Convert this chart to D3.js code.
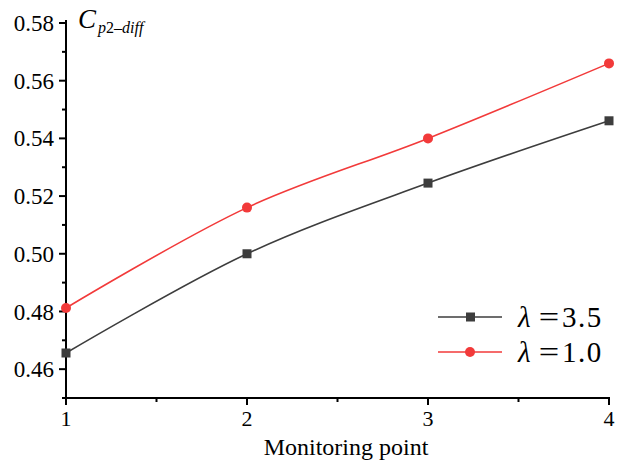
<!DOCTYPE html>
<html><head><meta charset="utf-8">
<script src="https://cdn.jsdelivr.net/npm/d3@7"></script>
<style>body{margin:0;background:#fff}svg{display:block}text{font-family:"Liberation Serif",serif}</style>
</head><body><svg id="c" width="624" height="461"></svg>
<script>
const points = [1, 2, 3, 4];
const seriesNames = ["λ = 3.5", "λ = 1.0"];
const lambda35 = [0.4656, 0.5000, 0.5245, 0.5461];
const lambda10 = [0.4812, 0.5160, 0.5400, 0.5660];
const yTicks = [0.46, 0.48, 0.50, 0.52, 0.54, 0.56, 0.58];
const xTicks = [1, 2, 3, 4];
const colors = ["#3d3d3d", "#f23a3a"];

const svg = d3.select("#c");
const x = d3.scaleLinear().domain([1, 4]).range([66, 609]);
const y = d3.scaleLinear().domain([0.45, 0.58]).range([398, 23]);

const yMinor = d3.range(0.45, 0.5801, 0.01).map(v => +v.toFixed(3)).filter(v => !yTicks.some(t => Math.abs(t - v) < 1e-6));
const xMinor = [1.5, 2.5, 3.5];

const gy = svg.append("g").attr("transform", "translate(66,0)");
gy.append("line").attr("x1", 0).attr("x2", 0).attr("y1", y(0.58) - 3).attr("y2", 399).attr("stroke", "#000").attr("stroke-width", 2);
gy.selectAll(".maj").data(yTicks).join("line").attr("class","maj").attr("x1", -7).attr("x2", 0).attr("y1", d => y(d)).attr("y2", d => y(d)).attr("stroke", "#000").attr("stroke-width", 2);
gy.selectAll(".min").data(yMinor).join("line").attr("class","min").attr("x1", -4).attr("x2", 0).attr("y1", d => y(d)).attr("y2", d => y(d)).attr("stroke", "#000").attr("stroke-width", 2);
gy.selectAll("text").data(yTicks).join("text").attr("x", -12).attr("y", d => y(d)).attr("dy", "0.35em")
  .attr("text-anchor", "end").attr("font-size", 23).text(d => d.toFixed(2));

const gx = svg.append("g").attr("transform", "translate(0,398)");
gx.append("line").attr("x1", 65).attr("x2", 610).attr("y1", 0).attr("y2", 0).attr("stroke", "#000").attr("stroke-width", 2);
gx.selectAll(".maj").data(xTicks).join("line").attr("class","maj").attr("x1", d => x(d)).attr("x2", d => x(d)).attr("y1", 0).attr("y2", 7).attr("stroke", "#000").attr("stroke-width", 2);
gx.selectAll(".min").data(xMinor).join("line").attr("class","min").attr("x1", d => x(d)).attr("x2", d => x(d)).attr("y1", 0).attr("y2", 4).attr("stroke", "#000").attr("stroke-width", 2);
gx.selectAll("text").data(xTicks).join("text").attr("x", d => x(d)).attr("y", 28)
  .attr("text-anchor", "middle").attr("font-size", 22).text(d => d);

svg.append("text").attr("x", 346).attr("y", 455).attr("text-anchor", "middle")
  .attr("font-size", 24).text("Monitoring point");

const yt = svg.append("text").attr("x", 78).attr("y", 28);
yt.append("tspan").attr("font-style", "italic").attr("font-size", 27).text("C");
yt.append("tspan").attr("font-size", 16).attr("dy", 5).attr("dx", 2).attr("font-style", "italic").text("p");
yt.append("tspan").attr("font-size", 16).text("2");
yt.append("tspan").attr("font-size", 16).text("\u2013");
yt.append("tspan").attr("font-size", 16).attr("font-style", "italic").text("diff");

const data = [lambda35, lambda10];
const line = d3.line().x((d, i) => x(points[i])).y(d => y(d)).curve(d3.curveCatmullRom.alpha(0.5));
data.forEach((s, k) => {
  svg.append("path").attr("d", line(s)).attr("fill", "none").attr("stroke", colors[k]).attr("stroke-width", 1.6);
});
svg.selectAll(".sq").data(lambda35).join("rect").attr("class","sq").attr("x", (d, i) => x(points[i]) - 4.5).attr("y", d => y(d) - 4.5)
  .attr("width", 9).attr("height", 9).attr("fill", colors[0]);
svg.selectAll(".ci").data(lambda10).join("circle").attr("class","ci").attr("cx", (d, i) => x(points[i])).attr("cy", d => y(d))
  .attr("r", 5).attr("fill", colors[1]);

const leg = [{y: 317, c: colors[0], m: "sq", t: "3.5"}, {y: 352, c: colors[1], m: "ci", t: "1.0"}];
leg.forEach(l => {
  svg.append("line").attr("x1", 438).attr("x2", 502).attr("y1", l.y).attr("y2", l.y).attr("stroke", l.c).attr("stroke-width", 1.6);
  if (l.m === "sq") svg.append("rect").attr("x", 466).attr("y", l.y - 4.5).attr("width", 9).attr("height", 9).attr("fill", l.c);
  else svg.append("circle").attr("cx", 470).attr("cy", l.y).attr("r", 5).attr("fill", l.c);
  svg.append("text").attr("x", 518).attr("y", l.y + 10).attr("font-size", 29).attr("font-style", "italic").text("λ");
  svg.append("text").attr("transform", `translate(549,${l.y + 10}) scale(1.25,1)`).attr("text-anchor", "middle").attr("font-size", 29).text("=");
  svg.append("text").attr("x", 562).attr("y", l.y + 10).attr("font-size", 29).attr("letter-spacing", 1.5).text(l.t);
});
</script></body></html>
